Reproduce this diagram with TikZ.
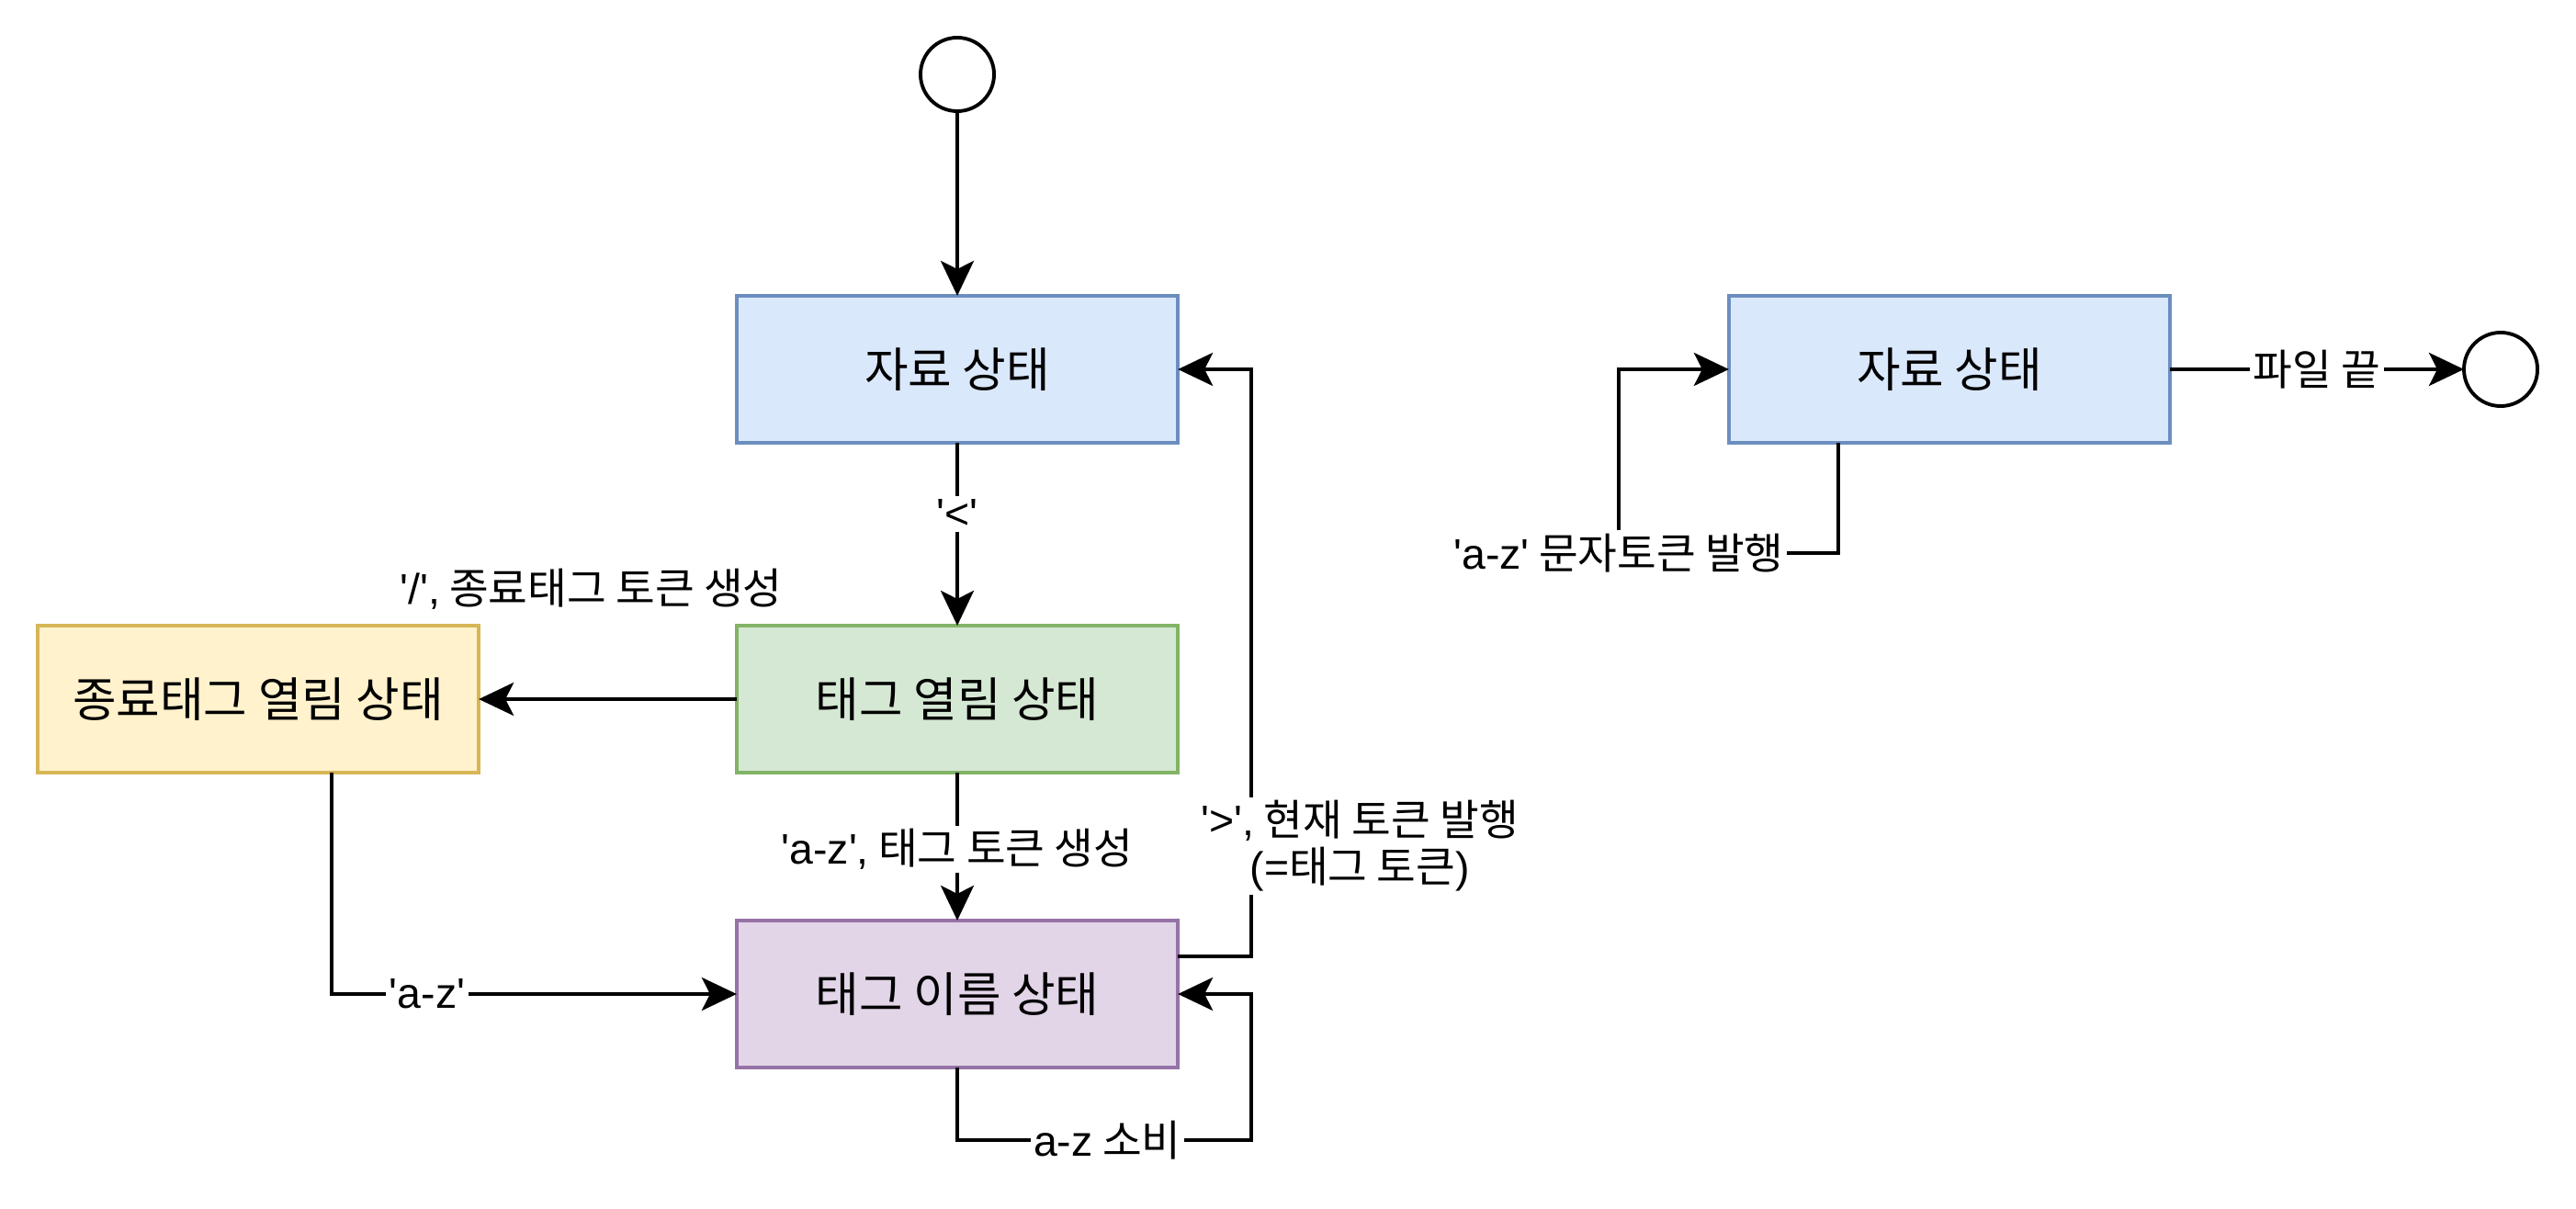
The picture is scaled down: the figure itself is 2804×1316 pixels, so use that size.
\documentclass[tikz,border=0pt]{standalone}
\usepackage{fontspec}
\newfontfamily\kr{Noto Sans CJK KR}
\newfontfamily\lat{Liberation Sans}
\usetikzlibrary{arrows.meta}
\definecolor{blueF}{HTML}{DAE8FC}
\definecolor{blueD}{HTML}{6C8EBF}
\definecolor{greenF}{HTML}{D5E8D4}
\definecolor{greenD}{HTML}{82B366}
\definecolor{yellowF}{HTML}{FFF2CC}
\definecolor{yellowD}{HTML}{D6B656}
\definecolor{purpleF}{HTML}{E1D5E7}
\definecolor{purpleD}{HTML}{9673A6}
\newcommand{\lt}[1]{{\lat #1}}
\begin{document}
\begin{tikzpicture}[x=0.01cm,y=-0.01cm,
  statebox/.style={draw, rectangle, line width=1.1pt, minimum width=4.8cm, minimum height=1.6cm,
    inner sep=0pt, outer sep=0pt, font=\kr\fontsize{14.7}{17}\selectfont},
  termcirc/.style={draw, circle, line width=1.1pt, minimum size=0.8cm, inner sep=0pt, outer sep=0pt, fill=white},
  arr/.style={draw, line width=1.1pt, -{Stealth[length=3.8mm,width=3.6mm,inset=0.9mm]}},
  lbl/.style={fill=white, inner sep=1pt, font=\kr\fontsize{13.2}{14.5}\selectfont, text=black}
]
\fill[white] (0,0) rectangle (2804,1316);
\useasboundingbox (0,0) rectangle (2804,1316);

% nodes
\node[termcirc] (start) at (1042,81) {};
\node[statebox, fill=blueF, draw=blueD] (A) at (1042,402) {자료 상태};
\node[statebox, fill=greenF, draw=greenD] (B) at (1042,761) {태그 열림 상태};
\node[statebox, fill=yellowF, draw=yellowD] (C) at (281,761) {종료태그 열림 상태};
\node[statebox, fill=purpleF, draw=purpleD] (D) at (1042,1082) {태그 이름 상태};
\node[statebox, fill=blueF, draw=blueD] (E) at (2122,402) {자료 상태};
\node[termcirc] (finish) at (2722,402) {};

% connectors
\draw[arr] (start) -- (A);
\draw[arr] (A) -- node[lbl, pos=0.39] {\lt{'<'}} (B);
\draw[arr] (B) -- node[lbl, pos=0.564, yshift=1.2cm] {\lt{'/',} 종료태그 토큰 생성} (C);
\draw[arr] (B) -- node[lbl, pos=0.52] {\lt{'a-z',} 태그 토큰 생성} (D);
\draw[arr] ([xshift=0.8cm]C.south) |- node[lbl, pos=0.618] {\lt{'a-z'}} (D.west);
\draw[arr] ([yshift=0.41cm]D.east) -- ++(80,0) |- node[lbl, pos=0.094, xshift=1.18cm, align=center] {\lt{'>',} 현재 토큰 발행\\\lt{(=}태그 토큰\lt{)}} (A.east);
\draw[arr] (D.south) -- ++(0,79) -| node[lbl, pos=0.255] {\lt{a-z} 소비} ([xshift=0.8cm]D.east) -- (D.east);
\draw[arr] ([xshift=-1.21cm]E.south) |- (1762,602) node[lbl] {\lt{'a-z'} 문자토큰 발행} |- (E.west);
\draw[arr] (E) -- node[lbl] {파일 끝} (finish);
\end{tikzpicture}
\end{document}
